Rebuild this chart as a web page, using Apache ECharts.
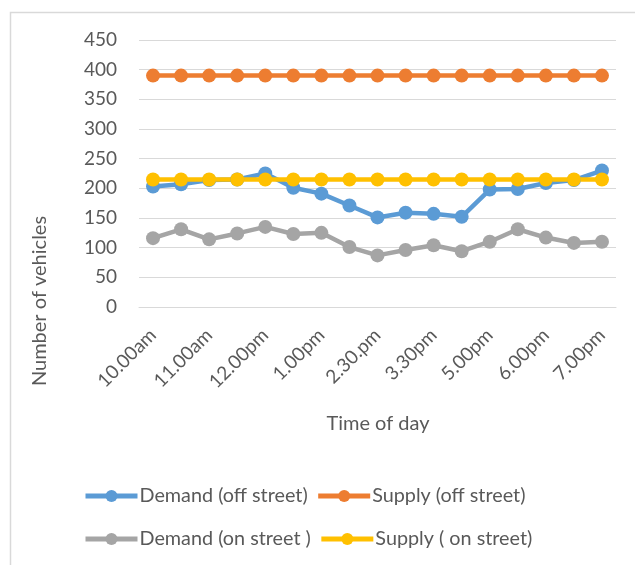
<!DOCTYPE html>
<html>
<head>
<meta charset="utf-8">
<script src="https://cdn.jsdelivr.net/npm/echarts@6/dist/echarts.min.js"></script>
<style>
html,body{margin:0;padding:0;background:#fff;}
#c{width:635px;height:565px;}
</style>
</head>
<body>
<div id="c"></div>
<script>
const categories = ["10.00am","10.30am","11.00am","11.30am","12.00pm","12.30pm","1.00pm","2.00pm","2.30.pm","3.00pm","3.30pm","4.00pm","5.00pm","5.30pm","6.00pm","6.30pm","7.00pm"];
const demandOff = [203,207,214,215,225,201,191,171,151,159,157,152,198,199,209,214,230];
const supplyOff = [390,390,390,390,390,390,390,390,390,390,390,390,390,390,390,390,390];
const demandOn  = [116,131,114,124,135,123,125,101,87,96,104,94,110,131,117,108,110];
const supplyOn  = [215,215,215,215,215,215,215,215,215,215,215,215,215,215,215,215,215];
const yTicks = {min:0, max:450, interval:50};

const FONT = 'Lato';
const TXT = '#595959';
const chart = echarts.init(document.getElementById('c'), null, {renderer:'canvas'});

function mk(name, data, color){
  return {
    name, type:'line', data,
    symbol:'circle', symbolSize:14,
    itemStyle:{color},
    lineStyle:{color, width:4.5},
    animation:false
  };
}
const legendCommon = {
  left:78, itemWidth:52, itemHeight:15, itemGap:8,
  lineStyle:{width:5},
  textStyle:{color:TXT, fontSize:19.8, fontFamily:FONT, padding:[0,0,0,-3]}
};

chart.setOption({
  animation:false,
  backgroundColor:'#fff',
  textStyle:{fontFamily:FONT},
  grid:{left:139, right:19, top:40, bottom:258, containLabel:false},
  xAxis:{
    type:'category', data:categories, boundaryGap:true,
    axisLine:{show:true, lineStyle:{color:'#d9d9d9', width:1}},
    axisTick:{show:false},
    axisLabel:{interval:1, rotate:45, margin:25, color:TXT, fontSize:19, fontFamily:FONT}
  },
  yAxis:{
    type:'value', min:yTicks.min, max:yTicks.max, interval:yTicks.interval,
    axisLine:{show:false}, axisTick:{show:false},
    splitLine:{lineStyle:{color:'#d9d9d9', width:1}},
    axisLabel:{color:TXT, fontSize:19, fontFamily:FONT, margin:22}
  },
  legend:[
    Object.assign({data:['Demand (off street)','Supply (off street)'], top:481}, legendCommon),
    Object.assign({data:['Demand (on street )','Supply ( on street)'], top:524}, legendCommon)
  ],
  graphic:[
    {type:'polyline', shape:{points:[[10.5,565],[10.5,12.5],[635,12.5]]}, style:{stroke:'#d9d9d9', lineWidth:1.5, fill:null}},
    {type:'text', x:40, y:301, rotation:Math.PI/2, style:{text:'Number of vehicles', fill:TXT, font:'20px '+FONT, textAlign:'center', textVerticalAlign:'middle'}},
    {type:'text', x:378, y:424, style:{text:'Time of day', fill:TXT, font:'20px '+FONT, textAlign:'center', textVerticalAlign:'middle'}}
  ],
  series:[
    mk('Demand (off street)', demandOff, '#5B9BD5'),
    mk('Supply (off street)', supplyOff, '#ED7D31'),
    mk('Demand (on street )', demandOn, '#A5A5A5'),
    mk('Supply ( on street)', supplyOn, '#FFC000')
  ]
});
</script>
</body>
</html>
